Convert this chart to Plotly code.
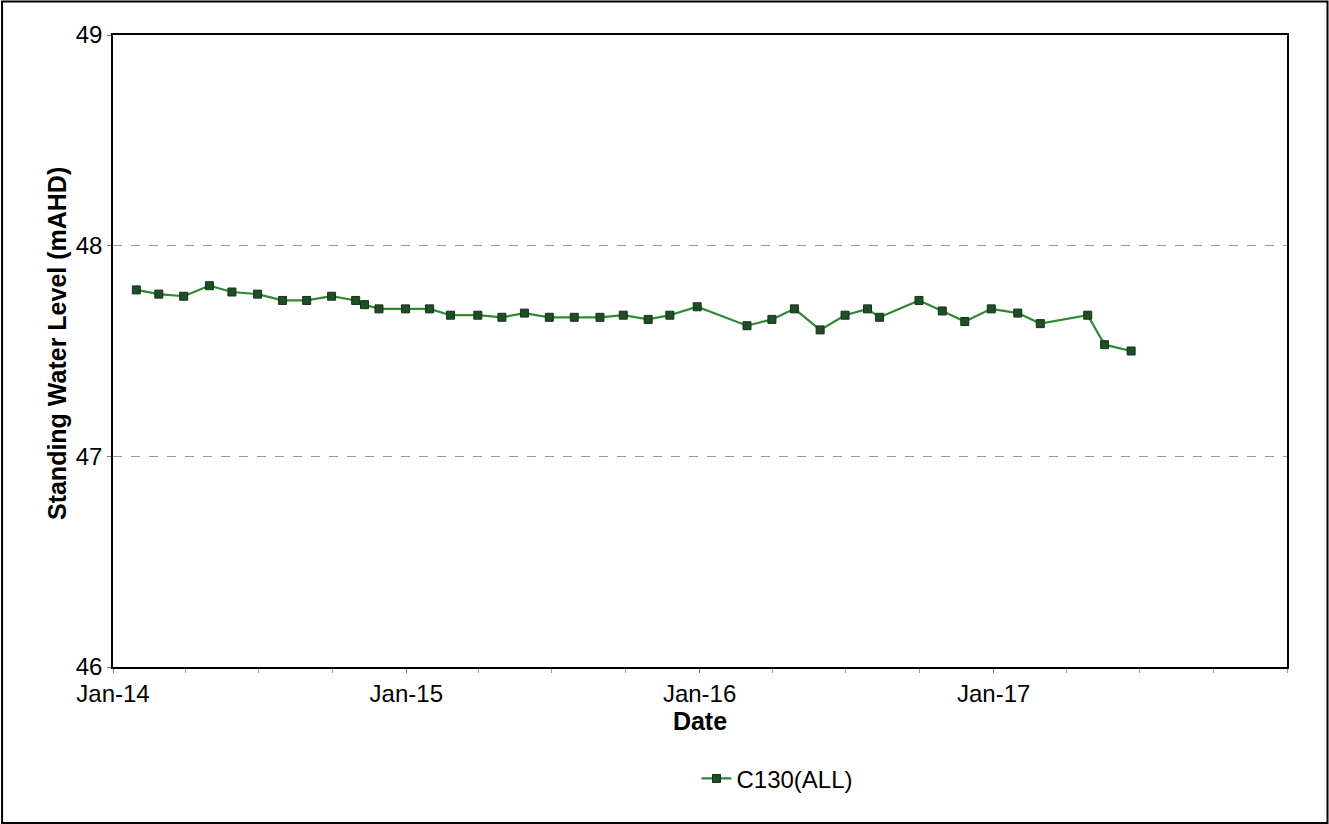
import plotly.graph_objects as go

# Monitoring bore C130 – standing water level readings
dates = [
    "2014-01-30", "2014-02-27", "2014-03-30", "2014-05-01", "2014-05-29",
    "2014-06-30", "2014-07-31", "2014-08-30", "2014-09-30", "2014-10-30",
    "2014-11-10", "2014-11-28", "2014-12-31", "2015-01-30", "2015-02-25",
    "2015-03-31", "2015-04-30", "2015-05-28", "2015-06-28", "2015-07-29",
    "2015-08-30", "2015-09-28", "2015-10-29", "2015-11-25", "2015-12-29",
    "2016-02-29", "2016-03-31", "2016-04-28", "2016-05-30", "2016-06-30",
    "2016-07-28", "2016-08-12", "2016-09-30", "2016-10-29", "2016-11-26",
    "2016-12-29", "2017-01-31", "2017-02-28", "2017-04-28", "2017-05-19",
    "2017-06-21",
]
levels = [
    47.79, 47.77, 47.76, 47.81, 47.78,
    47.77, 47.74, 47.74, 47.76, 47.74,
    47.72, 47.70, 47.70, 47.70, 47.67,
    47.67, 47.66, 47.68, 47.66, 47.66,
    47.66, 47.67, 47.65, 47.67, 47.71,
    47.62, 47.65, 47.70, 47.60, 47.67,
    47.70, 47.66, 47.74, 47.69, 47.64,
    47.70, 47.68, 47.63, 47.67, 47.53,
    47.50,
]
series_name = "C130(ALL)"
y_ticks = [46, 47, 48, 49]
x_tick_dates = ["2014-01-01", "2015-01-01", "2016-01-01", "2017-01-01"]
x_tick_labels = ["Jan-14", "Jan-15", "Jan-16", "Jan-17"]

FONT = "Liberation Sans, Arial, sans-serif"

fig = go.Figure()
fig.add_trace(go.Scatter(
    x=dates, y=levels, name=series_name, mode="lines+markers",
    line=dict(color="#2f8a35", width=2.2),
    marker=dict(symbol="square", size=8, color="#1f4d24",
                line=dict(color="#16321a", width=1)),
))

# outer frame around the whole figure
fig.add_shape(type="rect", xref="paper", yref="paper",
              x0=-0.0945, x1=1.0345, y0=-0.2470, y1=1.0530,
              line=dict(color="black", width=2), fillcolor="rgba(0,0,0,0)")

# vertical axis title
fig.add_annotation(text="<b>Standing Water Level (mAHD)</b>", textangle=-90,
                   xref="paper", yref="paper", x=-0.0477, y=0.511,
                   xanchor="center", yanchor="middle", showarrow=False,
                   font=dict(family=FONT, size=25, color="black"))

fig.update_layout(
    width=1329, height=824,
    margin=dict(l=113, r=42, t=35, b=157),
    paper_bgcolor="white", plot_bgcolor="white",
    font=dict(family=FONT, size=24, color="black"),
    showlegend=True,
    legend=dict(orientation="h", x=0.497, xanchor="left", y=-0.177, yanchor="middle",
                font=dict(size=24), itemwidth=30, bgcolor="rgba(0,0,0,0)"),
    xaxis=dict(
        type="date", range=["2014-01-01", "2018-01-01"],
        tickvals=x_tick_dates, ticktext=x_tick_labels,
        ticks="outside", ticklen=4, tickcolor="#777", tickfont=dict(size=24),
        minor=dict(dtick="M3", tick0="2014-01-01", ticks="outside", ticklen=4,
                   tickcolor="#999", showgrid=False),
        showgrid=False, zeroline=False,
        showline=True, linecolor="black", linewidth=1.5, mirror=True,
        title=dict(text="<b>Date</b>", font=dict(size=25), standoff=2),
    ),
    yaxis=dict(
        range=[46, 49], tickvals=y_ticks,
        ticks="outside", ticklen=4, tickcolor="#777", tickfont=dict(size=24),
        showgrid=True, gridcolor="#999", griddash="dash", gridwidth=1,
        zeroline=False,
        showline=True, linecolor="black", linewidth=1.5, mirror=True,
    ),
)

fig.write_html("out.html")
